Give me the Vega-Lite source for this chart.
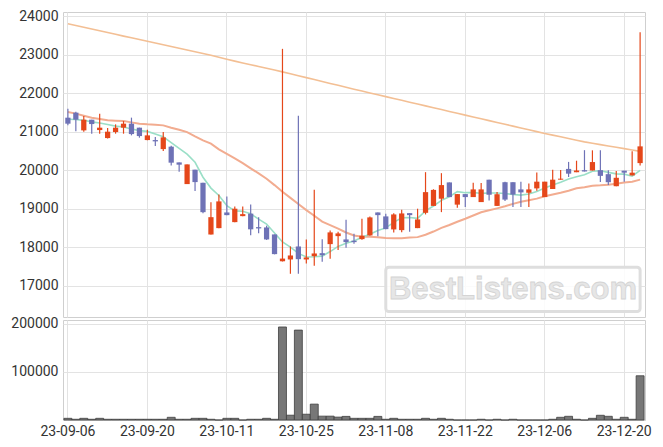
{
  "$schema": "https://vega.github.io/schema/vega-lite/v6.json",
  "padding": {"left": 10, "top": 8, "right": 10, "bottom": 10},
  "background": "white",
  "spacing": -2,
  "config": {
    "view": {"stroke": "#cfcfcf"},
    "axis": {"labelFont": "Roboto", "labelFontSize": 14, "labelColor": "#333333", "gridColor": "#e3e3e3", "domain": false, "ticks": false, "title": null, "labelPadding": 5}
  },
  "datasets": {
    "d": [
      {"date":"23-09-06","o":21369,"h":21600,"l":21170,"c":21213,"v":3500,"ma5":21330,"ma20":21515,"mal":23812},
      {"date":"23-09-07","o":21500,"h":21520,"l":21013,"c":21317,"v":1500,"ma5":21320,"ma20":21474,"mal":23766},
      {"date":"23-09-08","o":21039,"h":21411,"l":21005,"c":21317,"v":3500,"ma5":21300,"ma20":21421,"mal":23720},
      {"date":"23-09-11","o":21317,"h":21317,"l":20953,"c":21203,"v":1500,"ma5":21260,"ma20":21369,"mal":23674},
      {"date":"23-09-12","o":21047,"h":21474,"l":20953,"c":21109,"v":3500,"ma5":21232,"ma20":21333,"mal":23628},
      {"date":"23-09-13","o":20839,"h":21100,"l":20830,"c":21005,"v":1500,"ma5":21190,"ma20":21300,"mal":23582},
      {"date":"23-09-14","o":20995,"h":21195,"l":20953,"c":21109,"v":1500,"ma5":21149,"ma20":21291,"mal":23536},
      {"date":"23-09-15","o":21109,"h":21281,"l":20953,"c":21213,"v":1500,"ma5":21128,"ma20":21281,"mal":23490},
      {"date":"23-09-18","o":21213,"h":21370,"l":20909,"c":20943,"v":1500,"ma5":21076,"ma20":21247,"mal":23445},
      {"date":"23-09-19","o":21109,"h":21109,"l":20849,"c":20891,"v":1500,"ma5":21032,"ma20":21213,"mal":23400},
      {"date":"23-09-20","o":20787,"h":21057,"l":20780,"c":20909,"v":1500,"ma5":21013,"ma20":21195,"mal":23355},
      {"date":"23-09-21","o":20787,"h":20865,"l":20631,"c":20753,"v":1500,"ma5":20942,"ma20":21187,"mal":23310},
      {"date":"23-09-22","o":20552,"h":20995,"l":20500,"c":20857,"v":1500,"ma5":20871,"ma20":21169,"mal":23265},
      {"date":"23-09-25","o":20615,"h":20640,"l":20128,"c":20199,"v":5600,"ma5":20722,"ma20":21109,"mal":23220},
      {"date":"23-09-26","o":20206,"h":20206,"l":19964,"c":20147,"v":1500,"ma5":20573,"ma20":21057,"mal":23175},
      {"date":"23-09-27","o":19642,"h":20154,"l":19642,"c":20154,"v":1500,"ma5":20422,"ma20":20995,"mal":23130},
      {"date":"23-10-04","o":20017,"h":20017,"l":19460,"c":19694,"v":3500,"ma5":20210,"ma20":20883,"mal":23085},
      {"date":"23-10-05","o":19676,"h":19676,"l":18887,"c":18912,"v":3500,"ma5":19821,"ma20":20779,"mal":23040},
      {"date":"23-10-06","o":18331,"h":19173,"l":18331,"c":18782,"v":1500,"ma5":19538,"ma20":20693,"mal":22990},
      {"date":"23-10-10","o":18497,"h":19374,"l":18497,"c":19192,"v":0,"ma5":19347,"ma20":20546,"mal":22940},
      {"date":"23-10-11","o":18905,"h":19322,"l":18835,"c":18835,"v":3500,"ma5":19083,"ma20":20427,"mal":22890},
      {"date":"23-10-12","o":18653,"h":19062,"l":18653,"c":19002,"v":3500,"ma5":18945,"ma20":20311,"mal":22840},
      {"date":"23-10-13","o":18809,"h":19062,"l":18809,"c":18861,"v":0,"ma5":18934,"ma20":20189,"mal":22793},
      {"date":"23-10-16","o":18874,"h":19114,"l":18315,"c":18466,"v":1500,"ma5":18871,"ma20":20052,"mal":22747},
      {"date":"23-10-17","o":18523,"h":18783,"l":18367,"c":18489,"v":1500,"ma5":18731,"ma20":19921,"mal":22700},
      {"date":"23-10-18","o":18515,"h":18560,"l":18190,"c":18203,"v":3500,"ma5":18604,"ma20":19781,"mal":22653},
      {"date":"23-10-19","o":18333,"h":18333,"l":17815,"c":17821,"v":1500,"ma5":18368,"ma20":19616,"mal":22607},
      {"date":"23-10-20","o":17635,"h":23159,"l":17630,"c":17705,"v":193500,"ma5":18137,"ma20":19441,"mal":22560},
      {"date":"23-10-23","o":17682,"h":18020,"l":17310,"c":17786,"v":10000,"ma5":18001,"ma20":19283,"mal":22510},
      {"date":"23-10-24","o":18020,"h":21420,"l":17310,"c":17690,"v":187000,"ma5":17841,"ma20":19123,"mal":22460},
      {"date":"23-10-25","o":17682,"h":18201,"l":17578,"c":17734,"v":12000,"ma5":17747,"ma20":18964,"mal":22410},
      {"date":"23-10-26","o":17768,"h":19496,"l":17519,"c":17838,"v":33000,"ma5":17751,"ma20":18818,"mal":22360},
      {"date":"23-10-27","o":17846,"h":18210,"l":17623,"c":17794,"v":8000,"ma5":17768,"ma20":18665,"mal":22310},
      {"date":"23-10-30","o":18081,"h":18438,"l":17701,"c":18386,"v":8000,"ma5":17888,"ma20":18575,"mal":22260},
      {"date":"23-10-31","o":18289,"h":18405,"l":17926,"c":18360,"v":6000,"ma5":18022,"ma20":18485,"mal":22210},
      {"date":"23-11-01","o":18203,"h":18716,"l":17987,"c":18133,"v":7500,"ma5":18102,"ma20":18384,"mal":22160},
      {"date":"23-11-02","o":18169,"h":18352,"l":18091,"c":18133,"v":3500,"ma5":18161,"ma20":18306,"mal":22110},
      {"date":"23-11-03","o":18211,"h":18742,"l":18195,"c":18300,"v":3500,"ma5":18262,"ma20":18276,"mal":22062},
      {"date":"23-11-06","o":18307,"h":18802,"l":18300,"c":18776,"v":3500,"ma5":18340,"ma20":18275,"mal":22013},
      {"date":"23-11-07","o":18905,"h":18905,"l":18289,"c":18835,"v":7500,"ma5":18435,"ma20":18257,"mal":21965},
      {"date":"23-11-08","o":18802,"h":18870,"l":18471,"c":18471,"v":1500,"ma5":18503,"ma20":18239,"mal":21917},
      {"date":"23-11-09","o":18463,"h":18887,"l":18385,"c":18853,"v":3500,"ma5":18647,"ma20":18232,"mal":21868},
      {"date":"23-11-10","o":18445,"h":18976,"l":18393,"c":18879,"v":1500,"ma5":18763,"ma20":18233,"mal":21820},
      {"date":"23-11-13","o":18887,"h":18887,"l":18403,"c":18835,"v":1500,"ma5":18775,"ma20":18251,"mal":21772},
      {"date":"23-11-14","o":18497,"h":19002,"l":18497,"c":18723,"v":1500,"ma5":18752,"ma20":18263,"mal":21724},
      {"date":"23-11-15","o":18895,"h":19952,"l":18853,"c":19433,"v":3500,"ma5":18945,"ma20":18324,"mal":21676},
      {"date":"23-11-16","o":19075,"h":19508,"l":19075,"c":19491,"v":1500,"ma5":19072,"ma20":18408,"mal":21628},
      {"date":"23-11-17","o":19262,"h":19926,"l":18913,"c":19616,"v":3500,"ma5":19220,"ma20":18503,"mal":21580},
      {"date":"23-11-20","o":19686,"h":19686,"l":19304,"c":19304,"v":1500,"ma5":19313,"ma20":18579,"mal":21532},
      {"date":"23-11-21","o":19108,"h":19382,"l":19028,"c":19382,"v":0,"ma5":19445,"ma20":18664,"mal":21484},
      {"date":"23-11-22","o":19382,"h":19382,"l":19045,"c":19304,"v":0,"ma5":19419,"ma20":18742,"mal":21436},
      {"date":"23-11-23","o":19304,"h":19678,"l":19304,"c":19504,"v":0,"ma5":19422,"ma20":18826,"mal":21388},
      {"date":"23-11-24","o":19174,"h":19669,"l":19174,"c":19504,"v":1500,"ma5":19400,"ma20":18911,"mal":21340},
      {"date":"23-11-27","o":19756,"h":19756,"l":19218,"c":19365,"v":0,"ma5":19412,"ma20":18960,"mal":21292},
      {"date":"23-11-28","o":19075,"h":19439,"l":19075,"c":19378,"v":1500,"ma5":19411,"ma20":19011,"mal":21245},
      {"date":"23-11-29","o":19691,"h":19700,"l":19200,"c":19239,"v":0,"ma5":19398,"ma20":19066,"mal":21197},
      {"date":"23-11-30","o":19691,"h":19691,"l":19045,"c":19369,"v":1500,"ma5":19371,"ma20":19128,"mal":21150},
      {"date":"23-12-01","o":19504,"h":19703,"l":19045,"c":19426,"v":0,"ma5":19355,"ma20":19184,"mal":21102},
      {"date":"23-12-04","o":19417,"h":19660,"l":19045,"c":19504,"v":0,"ma5":19383,"ma20":19221,"mal":21055},
      {"date":"23-12-05","o":19530,"h":19946,"l":19470,"c":19705,"v":0,"ma5":19449,"ma20":19264,"mal":21007},
      {"date":"23-12-06","o":19304,"h":19705,"l":19304,"c":19705,"v":0,"ma5":19542,"ma20":19326,"mal":20960},
      {"date":"23-12-07","o":19514,"h":20017,"l":19514,"c":19757,"v":1500,"ma5":19619,"ma20":19371,"mal":20916},
      {"date":"23-12-08","o":19757,"h":20008,"l":19757,"c":19783,"v":5600,"ma5":19691,"ma20":19416,"mal":20872},
      {"date":"23-12-11","o":20037,"h":20219,"l":19826,"c":19913,"v":7700,"ma5":19773,"ma20":19470,"mal":20828},
      {"date":"23-12-12","o":19952,"h":20250,"l":19952,"c":19996,"v":1500,"ma5":19831,"ma20":19534,"mal":20784},
      {"date":"23-12-13","o":20004,"h":20524,"l":19970,"c":19970,"v":0,"ma5":19884,"ma20":19561,"mal":20740},
      {"date":"23-12-14","o":19996,"h":20520,"l":19996,"c":20215,"v":3500,"ma5":19975,"ma20":19597,"mal":20705},
      {"date":"23-12-15","o":20004,"h":20520,"l":19696,"c":19856,"v":9800,"ma5":19990,"ma20":19609,"mal":20669},
      {"date":"23-12-18","o":19900,"h":20000,"l":19621,"c":19691,"v":7700,"ma5":19946,"ma20":19628,"mal":20634},
      {"date":"23-12-19","o":19587,"h":19983,"l":19587,"c":19806,"v":1500,"ma5":19908,"ma20":19650,"mal":20599},
      {"date":"23-12-20","o":19991,"h":19991,"l":19700,"c":19939,"v":5600,"ma5":19901,"ma20":19681,"mal":20564},
      {"date":"23-12-21","o":19868,"h":20498,"l":19868,"c":19939,"v":1500,"ma5":19846,"ma20":19703,"mal":20528},
      {"date":"23-12-22","o":20188,"h":23591,"l":20128,"c":20623,"v":92000,"ma5":20000,"ma20":19759,"mal":20493}
    ],
    "wm": [
      {"a":"23-11-08","b":"23-12-22","mid":"23-11-30","lo":16330,"hi":17480,"yc":16900,"t":"BestListens.com"}
    ]
  },
  "vconcat": [
    {
      "width": 582,
      "height": 305,
      "layer": [
        {
          "data": {"name": "d"},
          "mark": {"type": "line", "color": "#F3BF94", "strokeWidth": 1.6},
          "encoding": {
            "x": {"field": "date", "type": "ordinal", "scale": {"paddingInner": 0, "paddingOuter": 0.115},
              "axis": {"values": ["23-09-06","23-09-20","23-10-11","23-10-25","23-11-08","23-11-22","23-12-06","23-12-20"], "labels": false, "grid": true, "bandPosition": 0.5, "labelPadding": 0, "minExtent": 0, "maxExtent": 0, "offset": 0}},
            "y": {"field": "mal", "type": "quantitative", "scale": {"domain": [16186, 24117], "nice": false, "zero": false},
              "axis": {"values": [17000,18000,19000,20000,21000,22000,23000,24000], "grid": true, "format": "d"}}
          }
        },
        {
          "data": {"name": "wm"},
          "mark": {"type": "rect", "fill": "white", "fillOpacity": 0.85, "stroke": "#dedede", "strokeWidth": 3, "cornerRadius": 3},
          "encoding": {
            "x": {"field": "a", "type": "ordinal"},
            "x2": {"field": "b"},
            "y": {"field": "lo", "type": "quantitative"},
            "y2": {"field": "hi"}
          }
        },
        {
          "data": {"name": "wm"},
          "mark": {"type": "text", "font": "Liberation Sans", "fontWeight": "bold", "fontSize": 31, "fill": "#e6e6e6", "stroke": "#d4d4d4", "strokeWidth": 0.8, "align": "center", "baseline": "middle"},
          "encoding": {
            "x": {"field": "mid", "type": "ordinal"},
            "y": {"field": "yc", "type": "quantitative"},
            "text": {"field": "t"}
          }
        },
        {
          "data": {"name": "d"},
          "mark": {"type": "line", "color": "#F2AC90", "strokeWidth": 2},
          "encoding": {
            "x": {"field": "date", "type": "ordinal"},
            "y": {"field": "ma20", "type": "quantitative"}
          }
        },
        {
          "data": {"name": "d"},
          "mark": {"type": "line", "color": "#9ADFC7", "strokeWidth": 1.6},
          "encoding": {
            "x": {"field": "date", "type": "ordinal"},
            "y": {"field": "ma5", "type": "quantitative"}
          }
        },
        {
          "data": {"name": "d"},
          "mark": {"type": "rule", "strokeWidth": 1.2},
          "encoding": {
            "x": {"field": "date", "type": "ordinal"},
            "y": {"field": "l", "type": "quantitative"},
            "y2": {"field": "h"},
            "color": {"condition": {"test": "datum.c >= datum.o", "value": "#E5471A"}, "value": "#6E72B6"}
          }
        },
        {
          "data": {"name": "d"},
          "mark": {"type": "bar", "width": {"band": 0.66}},
          "encoding": {
            "x": {"field": "date", "type": "ordinal"},
            "y": {"field": "o", "type": "quantitative"},
            "y2": {"field": "c"},
            "color": {"condition": {"test": "datum.c >= datum.o", "value": "#E5471A"}, "value": "#6E72B6"}
          }
        }
      ]
    },
    {
      "width": 582,
      "height": 100,
      "data": {"name": "d"},
      "mark": {"type": "bar", "fill": "#777777", "stroke": "#3f3f3f", "strokeWidth": 0.8},
      "encoding": {
        "x": {"field": "date", "type": "ordinal", "scale": {"paddingInner": 0, "paddingOuter": 0.115},
          "axis": {"values": ["23-09-06","23-09-20","23-10-11","23-10-25","23-11-08","23-11-22","23-12-06","23-12-20"], "grid": true, "labelAngle": 0, "labelOverlap": false, "bandPosition": 0.5, "labelPadding": 4}},
        "y": {"field": "v", "type": "quantitative", "scale": {"domain": [0, 208000], "nice": false},
          "axis": {"values": [100000, 200000], "grid": true, "format": "d"}}
      }
    }
  ]
}
